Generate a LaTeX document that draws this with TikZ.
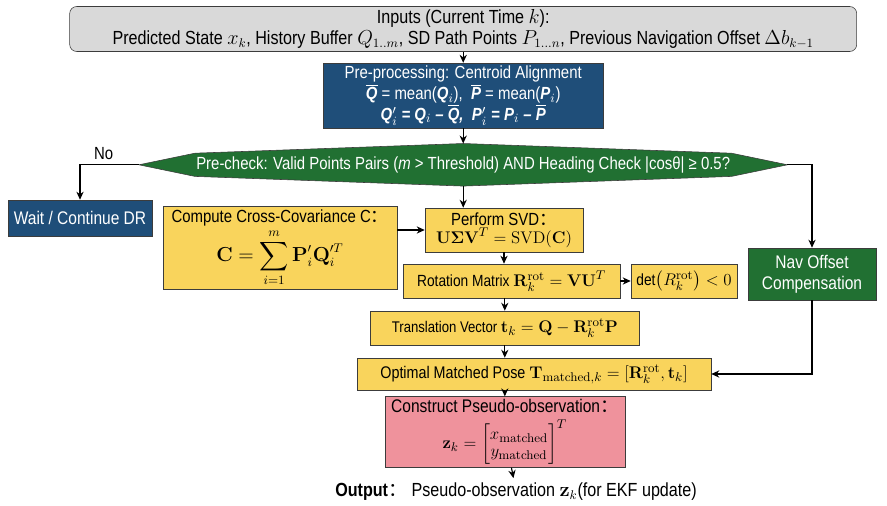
\documentclass[tikz,border=0pt]{standalone}
\usepackage{amsmath}
\usepackage[no-math]{fontspec}
\setmainfont{Liberation Sans}[FakeStretch=0.85]
\newfontfamily\cjk{Noto Sans CJK SC}
\usetikzlibrary{arrows.meta,positioning,shapes.geometric,calc,backgrounds}
\definecolor{myblue}{RGB}{31,78,121}
\definecolor{mygreen}{RGB}{33,112,50}
\definecolor{myyellow}{RGB}{249,212,92}
\definecolor{mypink}{RGB}{239,146,156}
\definecolor{mygray}{RGB}{217,217,217}
\definecolor{myedge}{RGB}{60,60,60}
\newcommand{\zcolon}{{\cjk ：}}
\newcommand{\mth}[2][13]{{\fontsize{#1}{#1}\selectfont$#2$}}
\newcommand{\bi}[1]{\text{\bfseries\itshape #1}}
\newcommand{\fs}[1]{\fontsize{#1}{#1}\selectfont}

\tikzset{
  base/.style={draw=myedge, inner sep=2pt, align=center, font=\fs{11}},
  yellowbox/.style={base, fill=myyellow},
  bluebox/.style={base, fill=myblue, text=white},
  greenbox/.style={base, fill=mygreen, text=white},
  arr/.style={-{Stealth[length=2mm,width=1.8mm]}, line width=0.8pt}
}

\begin{document}
\begin{tikzpicture}
  \useasboundingbox (0,0) rectangle (22.175,-12.65);

  % inputs and centroid step
  \node[base, fill=mygray, rounded corners=5pt, minimum width=19.675cm,
        minimum height=1.05cm, font=\fontsize{13.5}{15}\selectfont]
    (inputs) at (11.58,-0.725)
    {Inputs (Current Time $k$):\\
     Predicted State $x_k$, History Buffer $Q_{1..m}$, SD Path Points $P_{1...n}$,
     Previous Navigation Offset $\Delta b_{k-1}$};
  \node[bluebox, minimum width=7cm, minimum height=1.625cm,
        font=\fontsize{12.5}{13.5}\selectfont] (pre) at (11.58,-2.39)
    {Pre-processing: Centroid Alignment\\
     $\overline{\bi{Q}}$ = mean(\bi{Q$_i$}),\ \ $\overline{\bi{P}}$ = mean(\bi{P$_i$})\\
     \bfseries\itshape Q$'_i$ = Q$_i$ -- $\overline{\text{Q}}$,\ \ P$'_i$ = P$_i$ -- $\overline{\text{P}}$};

  % pre-check (pointed shape drawn behind its text)
  \node[text=white, inner sep=0pt, minimum width=16.2cm, minimum height=1.05cm,
        font=\fs{12.5}] (check) at (11.58,-4.12)
    {Pre-check: Valid Points Pairs (\textit{m} > Threshold) AND Heading Check |cosθ| ≥ 0.5?};
  \begin{scope}[on background layer]
    \draw[myedge, fill=mygreen, line join=round]
      (check.west) -- ($(check.west)+(1.4,0.29)$) -- (check.north)
      -- ($(check.east)+(-1.4,0.29)$) -- (check.east)
      -- ($(check.east)+(-1.4,-0.29)$) -- (check.south)
      -- ($(check.west)+(1.4,-0.29)$) -- cycle;
  \end{scope}

  \node[bluebox, minimum width=3.6cm, minimum height=0.9cm, font=\fs{13}]
    (wait) at (2.0,-5.45) {Wait / Continue DR};
  \node[greenbox, minimum width=3.2cm, minimum height=1.3cm,
        font=\fontsize{13}{15}\selectfont] (nav) at (20.3,-6.85)
    {Nav Offset\\Compensation};

  % matching steps
  \node[yellowbox, minimum width=5.85cm, minimum height=2.0cm,
        font=\fontsize{12.5}{14}\selectfont] (cov) at (7.0,-6.2)
    {Compute Cross-Covariance C\zcolon\\[1pt]
     \mth[13.5]{\mathbf{C}=\displaystyle\sum_{i=1}^{m}\mathbf{P}'_i\mathbf{Q}'^{T}_i}};
  \node[yellowbox, minimum width=3.95cm, minimum height=1.1cm, inner sep=1pt,
        font=\fontsize{12.5}{13}\selectfont] (svd) at (12.6,-5.75)
    {Perform SVD\zcolon\\
     \mth[12.5]{\mathbf{U\Sigma V}^T=\mathrm{SVD}(\mathbf{C})}};
  \node[yellowbox, minimum width=5.425cm, minimum height=0.85cm, font=\fs{11.5}]
    (rot) at (12.79,-7.025)
    {Rotation Matrix \mth[12.5]{\mathbf{R}_k^{\mathrm{rot}}=\mathbf{VU}^T}};
  \node[yellowbox, minimum width=2.65cm, minimum height=0.85cm, font=\fs{11.5}]
    (det) at (17.1,-7.025)
    {det\mth[13]{\left(R_k^{\mathrm{rot}}\right)<0}};
  \node[yellowbox, minimum width=6.725cm, minimum height=0.85cm, font=\fs{11}]
    (trans) at (12.62,-8.2)
    {Translation Vector \mth[13]{\mathbf{t}_k=\mathbf{Q}-\mathbf{R}_k^{\mathrm{rot}}\mathbf{P}}};
  \node[yellowbox, minimum width=8.85cm, minimum height=0.8cm, font=\fs{12}]
    (opt) at (13.35,-9.35)
    {Optimal Matched Pose \mth{\mathbf{T}_{\mathrm{matched},k}=[\mathbf{R}_k^{\mathrm{rot}},\mathbf{t}_k]}};
  \node[base, fill=mypink, minimum width=6.0cm, minimum height=1.75cm,
        font=\fontsize{13}{14}\selectfont] (constr) at (12.62,-10.8)
    {Construct Pseudo-observation\zcolon\\[4pt]
     \mth[12.5]{\mathbf{z}_k=\begin{bmatrix}x_{\mathrm{matched}}\\ y_{\mathrm{matched}}\end{bmatrix}^T}};
  \node[font=\fs{13.5}] (out) at (12.9,-12.3)
    {\textbf{Output}\zcolon\ Pseudo-observation $\mathbf{z}_k$(for EKF update)};

  % connectors
  \draw[arr] (inputs) -- (pre);
  \draw[arr] (pre) -- (check.north);
  \draw[arr] (check.west) -| node[pos=0.3, above, font=\fs{12.5}] {No} (wait.north);
  \draw[arr] (check.east) -| (nav.north);
  \draw[arr] (check.south) -- (check.south |- svd.north);
  \draw[arr] (cov.east |- svd.west) -- (svd.west);
  \draw[arr] (svd) -- (rot.north -| svd);
  \draw[arr] (rot) -- (det);
  \draw[arr] (rot.south -| trans) -- (trans);
  \draw[arr] (trans) -- (opt.north -| trans);
  \draw[arr] (opt.south -| constr) -- (constr);
  \draw[arr] (constr) -- (out);
  \draw[arr, line width=1.2pt] (nav) |- (opt.east);
\end{tikzpicture}
\end{document}
